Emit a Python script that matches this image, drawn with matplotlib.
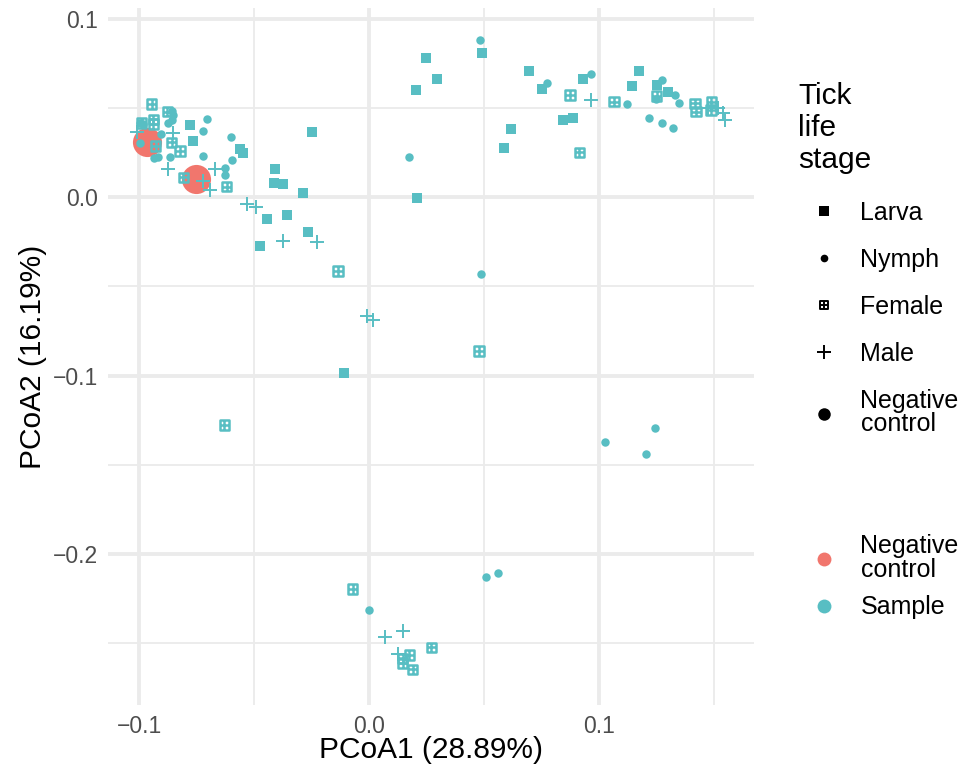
import matplotlib.pyplot as plt
from matplotlib.lines import Line2D
from matplotlib.path import Path

plt.rcParams['font.family'] = ['Liberation Sans', 'DejaVu Sans']

# PCoA coordinates, grouped by life stage
larva_x = [-0.0778, -0.0767, -0.0559, -0.0550, -0.0247, -0.0409, -0.0412, -0.0375,
           -0.0288, -0.0442, -0.0355, -0.0267, -0.0474, -0.0109, 0.0247, 0.0296,
           0.0206, 0.0210, 0.0493, 0.0697, 0.0752, 0.0930, 0.1175, 0.1145, 0.1253,
           0.1301, 0.0845, 0.0886, 0.0616, 0.0588]
larva_y = [0.0403, 0.0314, 0.0267, 0.0245, 0.0366, 0.0155, 0.0077, 0.0073,
           0.0024, -0.0124, -0.0101, -0.0194, -0.0273, -0.0986, 0.0777, 0.0661,
           0.0601, -0.0007, 0.0805, 0.0706, 0.0603, 0.0659, 0.0708, 0.0624, 0.0627,
           0.0588, 0.0431, 0.0441, 0.0379, 0.0273]

nymph_x = [-0.0858, -0.0853, -0.0858, -0.0873, -0.0996, -0.0981, -0.0706, -0.0720,
           -0.0904, -0.0600, -0.0996, -0.0916, -0.0865, -0.0720, -0.0594, -0.0626,
           -0.0626, -0.0935, 0.0483, 0.0774, 0.0964, 0.1122, 0.1274, 0.1248, 0.1330,
           0.1349, 0.1219, 0.1274, 0.1320, 0.0175, 0.0487, 0.0001, 0.0509, 0.0562,
           0.1026, 0.1204, 0.1243]
nymph_y = [0.0483, 0.0459, 0.0431, 0.0413, 0.0413, 0.0407, 0.0435, 0.0371,
           0.0351, 0.0338, 0.0304, 0.0226, 0.0222, 0.0230, 0.0207, 0.0161,
           0.0123, 0.0218, 0.0880, 0.0640, 0.0687, 0.0521, 0.0654, 0.0547, 0.0571,
           0.0528, 0.0441, 0.0415, 0.0388, 0.0222, -0.0431, -0.2314, -0.2130, -0.2108,
           -0.1373, -0.1440, -0.1294]

female_x = [-0.0945, -0.0877, -0.0938, -0.0938, -0.0988, -0.0858, -0.0927, -0.0822,
            -0.0807, -0.0619, -0.0135, -0.0630, 0.0478, 0.0874, 0.0914, 0.1065,
            0.1251, 0.1417, 0.1422, 0.1489, 0.1487, -0.0071, 0.0270, 0.0175, 0.0147,
            0.0147, 0.0190]
female_y = [0.0521, 0.0478, 0.0435, 0.0409, 0.0415, 0.0306, 0.0286, 0.0258,
            0.0110, 0.0058, -0.0415, -0.1277, -0.0863, 0.0571, 0.0250, 0.0534,
            0.0566, 0.0525, 0.0478, 0.0534, 0.0487, -0.2196, -0.2523, -0.2566, -0.2584,
            -0.2612, -0.2646]

male_x = [-0.1009, -0.0851, -0.0873, -0.0670, -0.0720, -0.0691, -0.0529, -0.0491,
          -0.0375, -0.0225, -0.0009, 0.0017, 0.0964, 0.1474, 0.1519, 0.1538, 0.1548,
          0.0070, 0.0149, 0.0127]
male_y = [0.0364, 0.0360, 0.0157, 0.0157, 0.0091, 0.0039, -0.0039, -0.0054,
          -0.0246, -0.0254, -0.0667, -0.0689, 0.0543, 0.0499, 0.0497, 0.0469, 0.0431,
          -0.2463, -0.2431, -0.2562]

negctrl_x = [-0.0965, -0.0752]
negctrl_y = [0.0308, 0.0101]

x_label = "PCoA1 (28.89%)"
y_label = "PCoA2 (16.19%)"
shape_title = "Tick\nlife\nstage"
shape_labels = ["Larva", "Nymph", "Female", "Male", "Negative\ncontrol"]
color_labels = ["Negative\ncontrol", "Sample"]

TEAL = "#58BEC3"
RED = "#F1766D"
GRID = "#EBEBEB"

# square with a plus inside (R shape 12)
boxplus = Path([(-1, -1), (1, -1), (1, 1), (-1, 1), (-1, -1), (-1, 0), (1, 0), (0, -1), (0, 1)],
               [Path.MOVETO, Path.LINETO, Path.LINETO, Path.LINETO, Path.CLOSEPOLY,
                Path.MOVETO, Path.LINETO, Path.MOVETO, Path.LINETO])

fig = plt.figure(figsize=(9.66, 7.73), dpi=100)
ax = fig.add_axes([108 / 966, 1 - 705 / 773, 646 / 966, 697 / 773])

ax.scatter(negctrl_x, negctrl_y, s=440, color=RED, linewidths=0, zorder=3)
ax.scatter(larva_x, larva_y, s=42, marker="s", color=TEAL, linewidths=0, zorder=4)
ax.scatter(nymph_x, nymph_y, s=37, marker="o", color=TEAL, linewidths=0, zorder=4)
ax.scatter(female_x, female_y, s=44, marker=boxplus, facecolors="none",
           edgecolors=TEAL, linewidths=1.8, zorder=4)
ax.scatter(male_x, male_y, s=90, marker="+", color=TEAL, linewidths=1.4, zorder=4)

ax.set_xlim(-0.1135, 0.1674)
ax.set_ylim(-0.2846, 0.1059)
ax.set_xticks([-0.1, 0.0, 0.1])
ax.set_xticks([-0.05, 0.05, 0.15], minor=True)
ax.set_yticks([-0.2, -0.1, 0.0, 0.1])
ax.set_yticks([-0.25, -0.15, -0.05, 0.05], minor=True)
ax.set_xticklabels(["\u22120.1", "0.0", "0.1"])
ax.set_yticklabels(["\u22120.2", "\u22120.1", "0.0", "0.1"])
ax.grid(which="major", color=GRID, linewidth=2.8)
ax.grid(which="minor", color=GRID, linewidth=1.3)
ax.set_axisbelow(True)
for sp in ax.spines.values():
    sp.set_visible(False)
ax.tick_params(which="both", length=0, labelsize=16.5, labelcolor="#4D4D4D")
ax.tick_params(axis="x", pad=7)
ax.tick_params(axis="y", pad=7)
ax.set_xlabel(x_label, fontsize=21.5, labelpad=-1)
ax.set_ylabel(y_label, fontsize=21.5, labelpad=4)

# shape legend
shape_handles = [
    Line2D([], [], ls="none", marker="s", ms=6.5, color="black", mew=0),
    Line2D([], [], ls="none", marker="o", ms=5.5, color="black", mew=0),
    Line2D([], [], ls="none", marker=boxplus, ms=6, mfc="none", mec="black", mew=1.4),
    Line2D([], [], ls="none", marker="+", ms=10, color="black", mew=1.4),
    Line2D([], [], ls="none", marker="o", ms=9, color="black", mew=0),
]
leg1 = fig.legend(shape_handles, shape_labels, loc="upper left",
                  bbox_to_anchor=(776 / 966, 1 - 60 / 773), frameon=False,
                  title=shape_title, title_fontsize=21.5, fontsize=18,
                  alignment="left", labelspacing=0.92, handletextpad=0.48,
                  handlelength=2.0)
leg1.get_title().set_linespacing(1.18)
for t in leg1.get_texts():
    t.set_linespacing(0.95)
leg1._legend_box.sep = 19.3

color_handles = [
    Line2D([], [], ls="none", marker="o", ms=10, color=RED, mew=0),
    Line2D([], [], ls="none", marker="o", ms=10, color=TEAL, mew=0),
]
leg2 = fig.legend(color_handles, color_labels, loc="upper left",
                  bbox_to_anchor=(776 / 966, 1 - 512 / 773), frameon=False,
                  fontsize=18, labelspacing=0.55, handletextpad=0.48,
                  handlelength=2.0)
for t in leg2.get_texts():
    t.set_linespacing(0.95)

fig.savefig("out.png", dpi=100)
